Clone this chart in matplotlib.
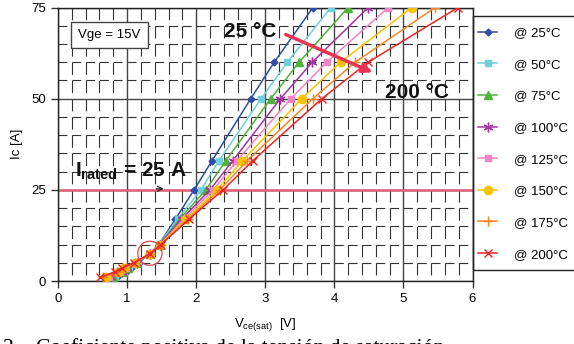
import matplotlib; matplotlib.use('Agg')
import numpy as np
from matplotlib import pyplot as plt
from matplotlib.patches import Ellipse, Rectangle

plt.rcParams.update({
    'font.family': 'Liberation Sans',
    'mathtext.fontset': 'custom',
    'mathtext.rm': 'Liberation Sans',
    'mathtext.it': 'Liberation Sans:italic',
    'mathtext.bf': 'Liberation Sans:bold',
    'font.size': 9.5,
})

# collector current points [A]
current = [1, 2.5, 3.5, 5, 7.5, 10, 17, 25, 33, 50, 60, 75]

# Vce(sat) [V] per junction temperature
temps = ['25', '50', '75', '100', '125', '150', '175', '200']
vce = {
    '25':  [0.85, 0.98, 1.05, 1.17, 1.33, 1.46, 1.70, 1.97, 2.23, 2.79, 3.13, 3.69],
    '50':  [0.82, 0.96, 1.03, 1.16, 1.33, 1.46, 1.73, 2.07, 2.33, 2.94, 3.32, 3.95],
    '75':  [0.80, 0.94, 1.02, 1.15, 1.33, 1.47, 1.76, 2.14, 2.43, 3.08, 3.49, 4.20],
    '100': [0.77, 0.92, 1.00, 1.14, 1.33, 1.47, 1.79, 2.20, 2.53, 3.22, 3.68, 4.49],
    '125': [0.74, 0.90, 0.98, 1.13, 1.33, 1.48, 1.82, 2.25, 2.59, 3.37, 3.89, 4.78],
    '150': [0.69, 0.87, 0.96, 1.12, 1.33, 1.48, 1.85, 2.30, 2.67, 3.53, 4.09, 5.12],
    '175': [0.65, 0.85, 0.94, 1.11, 1.33, 1.49, 1.88, 2.34, 2.74, 3.69, 4.30, 5.46],
    '200': [0.61, 0.82, 0.92, 1.10, 1.33, 1.49, 1.90, 2.39, 2.82, 3.82, 4.49, 5.79],
}

colors = {
    '25': '#2f4da6', '50': '#6fd0dc', '75': '#4fb33a', '100': '#a535a5',
    '125': '#f283c4', '150': '#f8c400', '175': '#f5891f', '200': '#ee2424',
}
markers = {
    '25': ('D', 3.5), '50': ('s', 5), '75': ('^', 5.5), '100': ((6, 2, 0), 7),
    '125': ('s', 5), '150': ('o', 6), '175': ('+', 7), '200': ('x', 6),
}

i_rated = 25

fig = plt.figure(figsize=(5.74, 3.44), dpi=100)
ax = fig.add_axes([58/574, 1-281/344, (472.5-58)/574, (281-7.5)/344])

for t in temps:
    m, ms = markers[t]
    ax.plot(vce[t], current, color=colors[t], lw=1.1, marker=m, ms=ms,
            mew=1.0, label='@ %s°C' % t, zorder=3)

ax.axhline(i_rated, color='#e0607a', lw=1.8, zorder=2)

ax.set_xlim(0, 6)
ax.set_ylim(0, 75)
ax.set_xticks(np.arange(0, 7, 1))
ax.set_xticks(np.arange(0, 6.01, 0.2), minor=True)
ax.set_yticks([0, 25, 50, 75])
ax.set_yticks(np.arange(0, 76, 5), minor=True)
ax.tick_params(which='major', direction='out', length=5, width=1, color='#333333')
ax.tick_params(which='minor', length=0)

# dashed minor grid, period matched to the cell size (corner-shaped dashes)
ax.xaxis.grid(True, which='major', color='#444444', lw=1.0)
ax.yaxis.grid(True, which='major', color='#444444', lw=1.0)
ax.xaxis.grid(True, which='minor', color='#333333', lw=0.8,
              linestyle=(11, (11, 5.41)))
ax.yaxis.grid(True, which='minor', color='#333333', lw=0.8,
              linestyle=(0, (8, 4.44)))
ax.set_axisbelow(True)
for s in ax.spines.values():
    s.set_color('#222222')
    s.set_linewidth(1.0)

ax.set_ylabel('Ic [A]')
ax.yaxis.set_label_coords(-0.085, 0.5)
ax.set_xlabel(r'V$_{\mathrm{ce(sat)}}$  [V]', labelpad=8)

ax.text(0.745, 67.4, 'Vge = 15V', ha='center', va='center', fontsize=9.5,
        bbox=dict(boxstyle='square,pad=0.55', fc='white', ec='#444444', lw=1.0))

ax.text(0.246, 28.6, r'$\mathbf{I_{rated}}$ = 25 A', fontsize=15,
        fontweight='bold', ha='left', va='baseline', color='#111111')
ax.annotate('', xy=(1.57, 25.3), xytext=(1.38, 25.3),
            arrowprops=dict(arrowstyle='->', color='#222222', lw=0.8))

ax.text(2.78, 68.3, '25 °C', fontsize=15, fontweight='bold', ha='center',
        va='center', color='#111111')
ax.text(5.20, 51.7, '200 °C', fontsize=15, fontweight='bold', ha='center',
        va='center', color='#111111')
ax.annotate('', xy=(4.59, 56.9), xytext=(3.26, 67.9),
            arrowprops=dict(arrowstyle='-|>', color='#ea3552', lw=2.5,
                            mutation_scale=14))

ax.add_patch(Ellipse((1.33, 7.6), 0.35, 6.6, fill=False, ec='#e04050', lw=0.9,
                     zorder=4))

legend = fig.legend(loc='upper left', bbox_to_anchor=(478/574, 1-27/344),
                    fontsize=9.5, handlelength=1.45, handletextpad=1.25,
                    labelspacing=1.47, borderpad=0, borderaxespad=0,
                    frameon=False)
fig.patches.append(Rectangle((473/574, 1-270/344), 110/574, 254/344,
                             transform=fig.transFigure, fill=False,
                             ec='#222222', lw=1.0))

fig.text(3/574, -0.027, '2.', fontsize=15.6, family='Liberation Serif',
         va='baseline')
fig.text(36/574, -0.027, 'Coeficiente positiva de la tensión de saturación',
         fontsize=15.6, family='Liberation Serif', va='baseline')

fig.savefig('out.png', dpi=100)
plt.close()
